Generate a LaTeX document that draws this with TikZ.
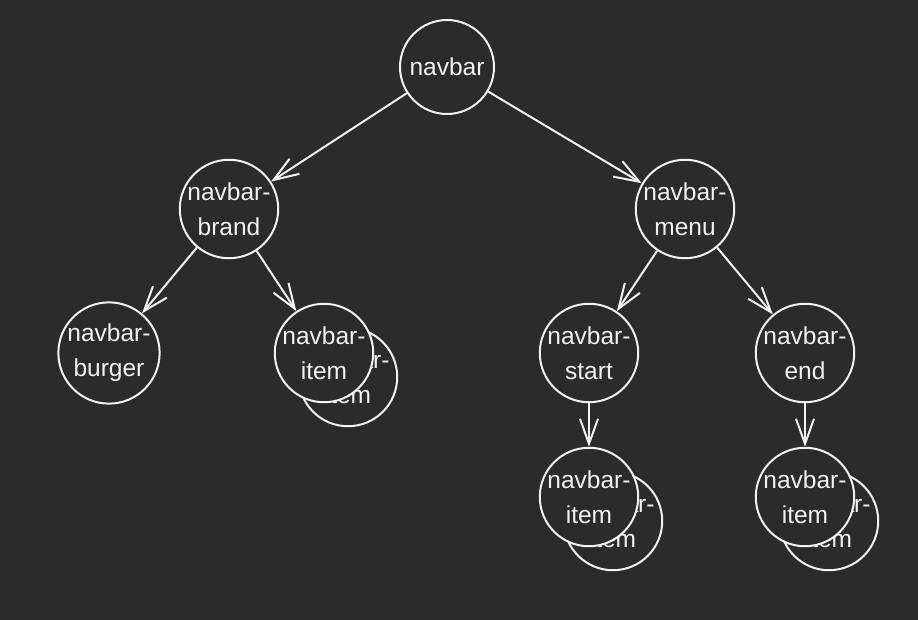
\documentclass[tikz,border=0pt]{standalone}
\usepackage{fontspec}
\setmainfont{Liberation Sans}
\usetikzlibrary{arrows.meta}
\definecolor{bg}{HTML}{2B2B2B}
\definecolor{fg}{HTML}{F2F2F2}
\begin{document}
\begin{tikzpicture}[x=1pt,y=-1pt,
  nd/.style={circle,draw=fg,line width=2pt,fill=bg,minimum size=94pt,inner sep=0pt,text=fg,font=\fontsize{24.5}{35}\selectfont,align=center},
  edge/.style={draw=fg,line width=2pt,-{Straight Barb[length=25pt,width=18pt]}}]
\fill[bg] (0,0) rectangle (918,620);
\useasboundingbox (0,0) rectangle (918,620);
\node[nd] (navbar) at (447,67) {navbar};
\node[nd] (brand) at (229,209) {navbar-\\brand};
\node[nd] (menu) at (685,209) {navbar-\\menu};
\node[nd] (burger) at (109,353) {navbar-\\burger};
\node[nd] (itemAback) at (348,377) {navbar-\\item};
\node[nd] (itemA) at (324,353) {navbar-\\item};
\node[nd] (start) at (589,353) {navbar-\\start};
\node[nd] (end) at (805,353) {navbar-\\end};
\node[nd] (itemBback) at (613,521) {navbar-\\item};
\node[nd] (itemB) at (589,497) {navbar-\\item};
\node[nd] (itemCback) at (829,521) {navbar-\\item};
\node[nd] (itemC) at (805,497) {navbar-\\item};
\draw[edge] (navbar) -- (brand);
\draw[edge] (navbar) -- (menu);
\draw[edge] (brand) -- (burger);
\draw[edge] (brand) -- (itemA);
\draw[edge] (menu) -- (start);
\draw[edge] (menu) -- (end);
\draw[edge] (start) -- (itemB);
\draw[edge] (end) -- (itemC);
\end{tikzpicture}
\end{document}
